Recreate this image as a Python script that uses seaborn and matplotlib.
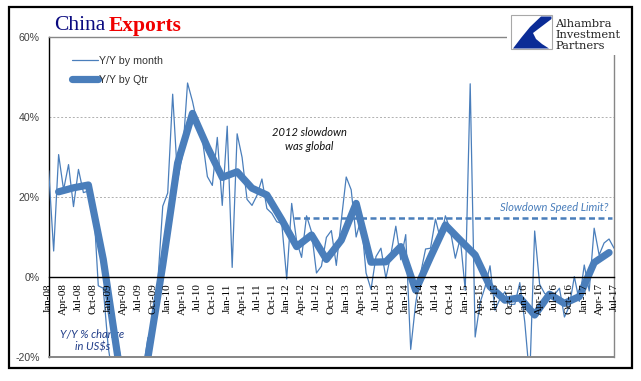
import numpy as np
import pandas as pd
import matplotlib
matplotlib.use("Agg")
import matplotlib.pyplot as plt
import seaborn as sns
from matplotlib.patches import Rectangle, Polygon

# ---------------- data ----------------
monthly_dates = pd.date_range("2008-01-01", "2017-07-01", freq="MS")
monthly_yoy = [
    26.6, 6.5, 30.6, 21.8, 28.1, 17.6, 26.9, 21.1, 21.5, 19.2, -2.2, -2.8,
    -17.5, -25.7, -17.1, -22.6, -26.4, -21.4, -23.0, -23.4, -15.2, -13.8, -1.2, 17.7,
    21.0, 45.7, 24.3, 30.5, 48.5, 43.9, 38.1, 34.4, 25.1, 22.9, 34.9, 17.9,
    37.7, 2.4, 35.8, 29.9, 19.4, 17.9, 20.4, 24.5, 17.1, 15.9, 13.8, 13.4,
    -0.5, 18.4, 8.9, 4.9, 15.3, 11.3, 1.0, 2.7, 9.9, 11.6, 2.9, 14.1,
    25.0, 21.8, 10.0, 14.7, 1.0, -3.1, 5.1, 7.2, -0.3, 5.6, 12.7, 4.3,
    10.6, -18.1, -6.6, 0.9, 7.0, 7.2, 14.5, 9.4, 15.3, 11.6, 4.7, 9.7,
    -3.3, 48.3, -15.0, -6.4, -2.5, 2.8, -8.3, -5.5, -3.7, -6.9, -6.8, -1.4,
    -11.2, -25.4, 11.5, -1.8, -4.1, -4.8, -4.4, -2.8, -10.0, -7.3, 0.1, -6.1,
    3.0, -3.5, 12.2, 5.5, 8.5, 9.5, 7.2,
]
quarter_dates = pd.date_range("2008-03-01", "2017-06-01", freq="3MS")
quarterly_yoy = [
    21.3, 22.3, 23.0, 4.4,
    -20.5, -23.5, -20.2, 3.0,
    28.5, 40.9, 32.5, 24.9,
    26.3, 22.2, 20.5, 14.3,
    7.6, 10.5, 4.4, 9.2,
    18.4, 3.7, 3.8, 7.6,
    -3.3, 5.0, 13.0, 9.2,
    5.5, -2.4, -5.8, -5.2,
    -9.5, -4.3, -6.6, -4.9,
    3.6, 6.1,
]
speed_limit = 14.7
speed_limit_start = pd.Timestamp("2012-02-15")
tick_dates = pd.date_range("2008-01-01", "2017-07-01", freq="3MS")
tick_labels = [d.strftime("%b-%y") for d in tick_dates]
y_ticks = [-20, 0, 20, 40, 60]
y_labels = ["-20%", "0%", "20%", "40%", "60%"]


def mpos(d):
    return (d.year - 2008) * 12 + (d.month - 1) + (d.day - 1) / 30.0


df_m = pd.DataFrame({"t": [mpos(d) for d in monthly_dates], "v": monthly_yoy})
df_q = pd.DataFrame({"t": [mpos(d) for d in quarter_dates], "v": quarterly_yoy})

# ---------------- figure ----------------
sns.set_style("white")
plt.rcParams["font.family"] = ["Liberation Sans", "DejaVu Sans"]

W, H = 641, 381
fig = plt.figure(figsize=(W / 100, H / 100), dpi=100)


def fx(x):
    return x / W


def fy(y):
    return 1 - y / H


BLUE = "#4A7EBB"
GRAY = "#868686"

ax = fig.add_axes([fx(48.7), fy(357), (614 - 48.7) / W, (357 - 37) / H])

# move the category axis to the 0% line first (this resets ticks)
ax.spines["bottom"].set_position(("data", 0))

for v in (20, 40):
    ax.axhline(v, color="#B0B0B0", lw=0.7, ls=(0, (2, 2)), zorder=0)

sns.lineplot(data=df_m, x="t", y="v", ax=ax, color=BLUE, lw=0.9,
             label="Y/Y by month", zorder=3)
sns.lineplot(data=df_q, x="t", y="v", ax=ax, color=BLUE, lw=5.2,
             label="Y/Y by Qtr", zorder=4,
             solid_capstyle="round", solid_joinstyle="round")

ax.plot([mpos(speed_limit_start), 113.6], [speed_limit, speed_limit],
        color=BLUE, lw=1.8, dashes=(2.4, 1.4), zorder=5)

ax.set_xlim(0, 114)
ax.set_ylim(-20, 60)
ax.set_xlabel("")
ax.set_ylabel("")

ax.set_xticks([mpos(d) for d in tick_dates])
ax.set_xticklabels(tick_labels)
ax.set_yticks(y_ticks)
ax.set_yticklabels(y_labels)
ax.tick_params(axis="x", direction="out", length=4, width=0.8, pad=0.5,
               color="black", labelrotation=90, labelsize=8, labelcolor="black")
ax.tick_params(axis="y", direction="out", length=2.5, width=0.8, pad=4,
               color="black", labelsize=7.6, labelcolor="#404040")
for lbl in ax.get_xticklabels():
    lbl.set_fontfamily("Liberation Serif")
    lbl.set_va("top")
    lbl.set_ha("center")
ax.xaxis.set_zorder(7)

ax.spines["bottom"].set_color("black")
ax.spines["bottom"].set_linewidth(1.0)
ax.spines["bottom"].set_zorder(6)
ax.spines["left"].set_color("black")
ax.spines["left"].set_linewidth(1.0)
ax.spines["top"].set_color(GRAY)
ax.spines["right"].set_color(GRAY)
ax.spines["top"].set_linewidth(1.0)
ax.spines["right"].set_linewidth(1.0)
ax.axhline(-20, color=GRAY, lw=1.4, clip_on=False, zorder=6)

leg = ax.legend(loc="upper left", bbox_to_anchor=(fx(72), fy(55.5)),
                bbox_transform=fig.transFigure, frameon=False,
                handlelength=2.4, handletextpad=0.15, labelspacing=0.85,
                borderpad=0, borderaxespad=0,
                prop={"family": "Liberation Sans", "size": 7.7})
for t in leg.get_texts():
    t.set_color("#333333")

# annotations
ita = dict(family=["Lato", "DejaVu Sans"], style="italic", fontsize=8)
ax.text(52.6, 36.2, "2012 slowdown", ha="center", va="center", color="#111111", **ita)
ax.text(52.6, 32.7, "was global", ha="center", va="center", color="#111111", **ita)
ax.text(8.8, -14.25, "Y/Y % change", ha="center", va="center", color="#1F3C88", **ita)
ax.text(8.8, -17.6, r"in US\$s", ha="center", va="center", color="#1F3C88", **ita)
ax.text(112.9, 17.4, "Slowdown Speed Limit?", ha="right", va="center",
        color=BLUE, **ita)

# title
fig.text(fx(54), fy(30.5), "China", fontfamily="Liberation Serif", fontsize=15.5,
         color="#0A0A80", va="baseline", ha="left")
fig.text(fx(109), fy(30.5), "Exports", fontfamily="Liberation Serif", fontsize=15.5,
         fontweight="bold", color="#F00000", va="baseline", ha="left")

# logo area (white cover, box, swoosh, text)
fig.add_artist(Rectangle((fx(507), fy(55)), (631 - 507) / W, (55 - 8.5) / H,
                         transform=fig.transFigure, fc="white", ec="none", zorder=5))
fig.add_artist(Rectangle((fx(511), fy(49)), 41 / W, 34 / H,
                         transform=fig.transFigure, fc="white", ec="#A8A8A8",
                         lw=0.8, zorder=6))
swoosh = [(541, 16.5), (551.5, 16.5), (551.5, 19), (533, 33), (536, 39),
          (542, 44), (549, 48.5), (513, 48.5), (521, 38), (530, 27)]
fig.add_artist(Polygon([(fx(x), fy(y)) for x, y in swoosh], closed=True,
                       transform=fig.transFigure, fc="#0B2C96", ec="none", zorder=7))
for txt, yb in (("Alhambra", 26.7), ("Investment", 37.8), ("Partners", 49.2)):
    fig.text(fx(555.5), fy(yb), txt, fontfamily="DejaVu Serif", fontsize=8.2,
             color="#222222", va="baseline", ha="left", zorder=8)

# outer frame
fig.add_artist(Rectangle((fx(9), fy(368)), (632 - 9) / W, (368 - 7) / H,
                         transform=fig.transFigure, fill=False, ec="black",
                         lw=1.6, zorder=9))

fig.savefig("out.png", dpi=100)
